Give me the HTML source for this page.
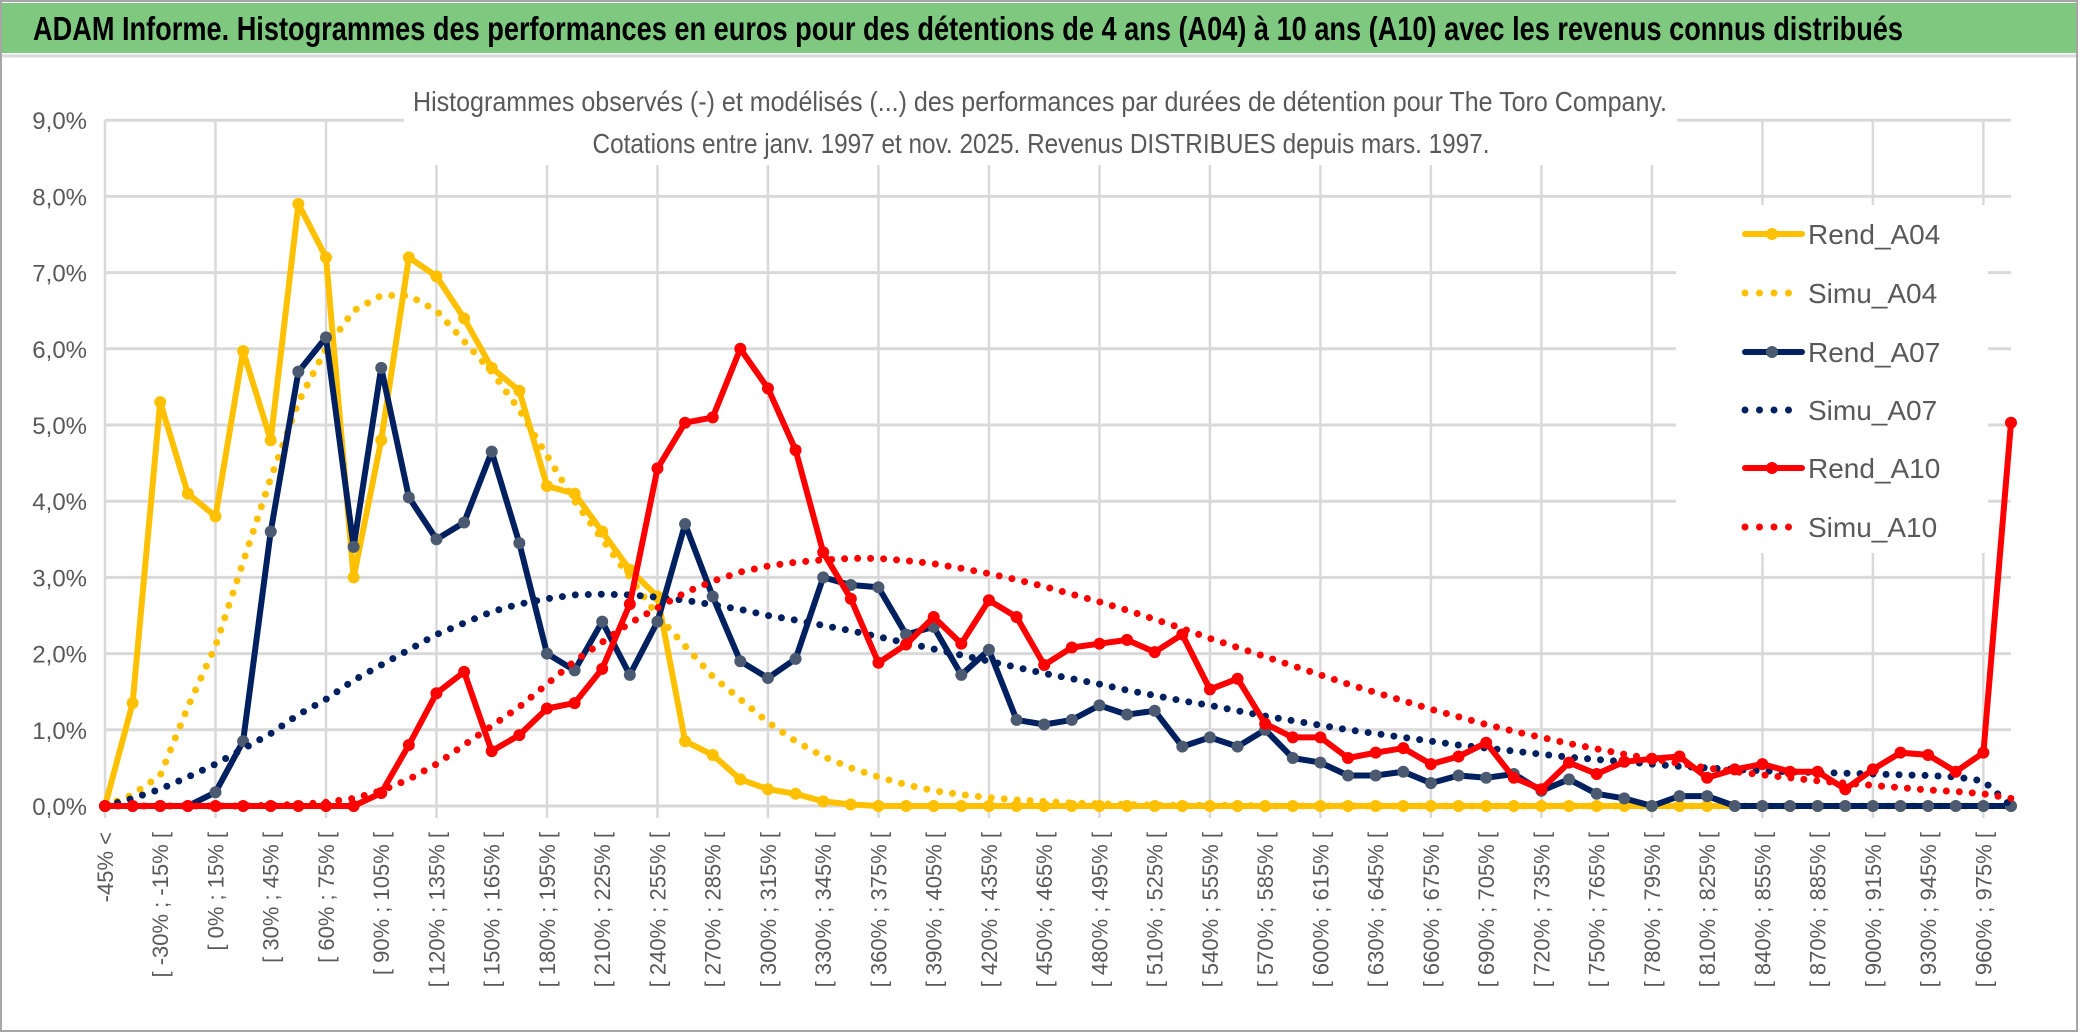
<!DOCTYPE html>
<html><head><meta charset="utf-8">
<style>
html,body{margin:0;padding:0;background:#fff;width:2086px;height:1033px;overflow:hidden}
svg{display:block}
</style></head>
<body>
<svg id="chart" width="2086" height="1033" xmlns="http://www.w3.org/2000/svg" font-family="'Liberation Sans', sans-serif">
  <rect x="1" y="1" width="2076" height="1030" fill="#fff" stroke="#a6a6a6" stroke-width="2"/>
  <rect x="2" y="3" width="2074" height="50" fill="#7ec97f"/>
  <line x1="2" y1="56" x2="2076" y2="56" stroke="#d9d9d9" stroke-width="3"/>
  <text x="33" y="40" font-size="33" font-weight="bold" fill="#000" textLength="1870" lengthAdjust="spacingAndGlyphs">ADAM Informe. Histogrammes des performances en euros pour des détentions de 4 ans (A04) à 10 ans (A10) avec les revenus connus distribués</text>
  <g id="grid"></g>
  <rect x="404" y="80" width="1273" height="85" fill="#fff"/>
  <text x="1040" y="111" font-size="28" fill="#595959" text-anchor="middle" textLength="1254" lengthAdjust="spacingAndGlyphs">Histogrammes observés (-) et modélisés (...) des performances par durées de détention pour The Toro Company.</text>
  <text x="1041" y="153" font-size="28" fill="#595959" text-anchor="middle" textLength="897" lengthAdjust="spacingAndGlyphs">Cotations entre janv. 1997 et nov. 2025. Revenus DISTRIBUES depuis mars. 1997.</text>
  <g id="yticks"></g>
  <g id="xticks"></g>
  <rect x="1676" y="205" width="312" height="348" fill="#fff"/>
  <g id="series"></g>
  <g id="legend"></g>
</svg>
<script>
const categoriesLow = [];
for (let k = 1; k < 70; k++) categoriesLow.push(-45 + 15 * (k - 1));
const yTicks = ["0,0%","1,0%","2,0%","3,0%","4,0%","5,0%","6,0%","7,0%","8,0%","9,0%"];
const rendA04 = [0,1.35,5.3,4.1,3.8,5.97,4.8,7.9,7.2,3.0,4.8,7.2,6.95,6.4,5.75,5.45,4.2,4.1,3.6,3.1,2.75,0.85,0.67,0.35,0.22,0.16,0.06,0.02,0,0,0,0,0,0,0,0,0,0,0,0,0,0,0,0,0,0,0,0,0,0,0,0,0,0,0,0,0,0,0,0,0,0,0,0,0,0,0,0,0,0];
const simuA04 = [0,0.15,0.4,1.3,2.1,3.2,4.3,5.3,6.0,6.5,6.7,6.7,6.5,6.1,5.7,5.2,4.6,4.0,3.5,3.0,2.5,2.1,1.7,1.4,1.1,0.85,0.65,0.5,0.38,0.28,0.2,0.15,0.11,0.08,0.06,0.04,0.03,0.02,0.01,0.01,0.01,0.01,0,0,0,0,0,0,0,0,0,0,0,0,0,0,0,0,0,0,0,0,0,0,0,0,0,0,0,0];
const rendA07 = [0,0,0,0,0.18,0.85,3.6,5.7,6.15,3.4,5.75,4.05,3.5,3.72,4.65,3.45,2.0,1.78,2.42,1.72,2.42,3.7,2.75,1.9,1.68,1.93,3.0,2.9,2.87,2.25,2.35,1.72,2.05,1.13,1.07,1.13,1.32,1.2,1.25,0.78,0.9,0.78,1.0,0.63,0.57,0.4,0.4,0.45,0.3,0.4,0.37,0.42,0.2,0.35,0.16,0.1,0,0.13,0.13,0,0,0,0,0,0,0,0,0,0,0];
const simuA07 = [0,0.1,0.22,0.38,0.55,0.75,0.95,1.2,1.4,1.65,1.85,2.05,2.25,2.4,2.55,2.65,2.72,2.77,2.78,2.77,2.74,2.7,2.64,2.58,2.5,2.44,2.37,2.3,2.22,2.14,2.06,1.98,1.9,1.82,1.74,1.67,1.6,1.52,1.45,1.38,1.32,1.25,1.18,1.12,1.06,1.0,0.95,0.9,0.85,0.8,0.76,0.72,0.68,0.64,0.61,0.58,0.55,0.52,0.5,0.48,0.46,0.45,0.44,0.43,0.42,0.41,0.4,0.38,0.33,0];
const rendA10 = [0,0,0,0,0,0,0,0,0,0,0.17,0.8,1.48,1.76,0.72,0.93,1.28,1.35,1.8,2.65,4.43,5.03,5.1,6.0,5.48,4.67,3.33,2.72,1.88,2.12,2.48,2.13,2.7,2.48,1.85,2.08,2.13,2.18,2.02,2.25,1.53,1.67,1.08,0.9,0.9,0.63,0.7,0.76,0.55,0.65,0.83,0.37,0.22,0.57,0.42,0.58,0.62,0.65,0.37,0.48,0.55,0.45,0.45,0.22,0.48,0.7,0.67,0.45,0.7,5.03];
const simuA10 = [0,0,0,0,0,0,0.01,0.02,0.05,0.1,0.2,0.35,0.55,0.8,1.05,1.3,1.6,1.9,2.15,2.4,2.6,2.8,2.95,3.07,3.15,3.2,3.23,3.25,3.25,3.22,3.18,3.12,3.05,2.97,2.88,2.78,2.68,2.57,2.45,2.33,2.2,2.08,1.96,1.84,1.72,1.6,1.49,1.38,1.27,1.17,1.07,0.98,0.9,0.82,0.75,0.68,0.62,0.56,0.5,0.45,0.41,0.37,0.33,0.3,0.27,0.24,0.21,0.19,0.16,0.1];

const NS = "http://www.w3.org/2000/svg";
const X0 = 105, X1 = 2011, Y0 = 806, YPER = 76.2;
const N = rendA04.length;
const xs = i => X0 + (X1 - X0) * i / (N - 1);
const ys = v => Y0 - v * YPER;
function mk(tag, attrs, parent) {
  const e = document.createElementNS(NS, tag);
  for (const a in attrs) e.setAttribute(a, attrs[a]);
  parent.appendChild(e);
  return e;
}
const grid = document.getElementById('grid');
for (let t = 0; t < yTicks.length; t++) {
  const l = mk('line', {x1: X0, x2: X1, y1: ys(t), y2: ys(t), stroke: '#d9d9d9', 'stroke-width': 3}, grid);
  
  
}
for (let i = 0; i < N; i += 4) {
  const l = mk('line', {x1: xs(i), x2: xs(i), y1: ys(9), y2: Y0 + 12, stroke: '#d9d9d9', 'stroke-width': 2.5}, grid);
  
  
}
const yt = document.getElementById('yticks');
yTicks.forEach((s, t) => {
  const e = mk('text', {x: 87, y: ys(t) + 9, 'font-size': 24, fill: '#595959', 'text-anchor': 'end'}, yt);
  e.textContent = s;
  
  
});
const xt = document.getElementById('xticks');
for (let i = 0; i < N; i += 2) {
  let s = i === 0 ? '-45% <' : '[ ' + categoriesLow[i - 1] + '% ; ' + (categoriesLow[i - 1] + 15) + '% [';
  const x = xs(i) + 8, y = 832;
  const e = mk('text', {x: x, y: y, 'font-size': 22, fill: '#595959', 'text-anchor': 'end', transform: `rotate(-90 ${x} ${y})`}, xt);
  e.textContent = s;
  
  
}
const sg = document.getElementById('series');
function pts(arr) { return arr.map((v, i) => xs(i).toFixed(1) + ',' + ys(v).toFixed(1)).join(' '); }
function dotted(arr, color, name) {
  const p = mk('polyline', {points: pts(arr), fill: 'none', stroke: color, 'stroke-width': 7, 'stroke-linecap': 'round', 'stroke-dasharray': '0 13'}, sg);
  
  
}
function solid(arr, color, mcolor, name) {
  const g = mk('g', {}, sg);
  
  
  mk('polyline', {points: pts(arr), fill: 'none', stroke: color, 'stroke-width': 6, 'stroke-linejoin': 'round'}, g);
  arr.forEach((v, i) => {
    const c = mk('circle', {cx: xs(i), cy: ys(v), r: 6, fill: mcolor}, g);
    
    
  });
}
solid(rendA04, '#ffc000', '#ffc000', 'rend-a04-line');
dotted(simuA04, '#ffc000', 'simu-a04-line');
solid(rendA07, '#002060', '#4b5a70', 'rend-a07-line');
dotted(simuA07, '#002060', 'simu-a07-line');
solid(rendA10, '#ff0000', '#ff0000', 'rend-a10-line');
dotted(simuA10, '#ff0000', 'simu-a10-line');

const legendNames = ['Rend_A04','Simu_A04','Rend_A07','Simu_A07','Rend_A10','Simu_A10'];
const legendColors = ['#ffc000','#ffc000','#002060','#002060','#ff0000','#ff0000'];
const legendY = [234, 293, 352, 410, 468, 527];
const lg = document.getElementById('legend');
legendNames.forEach((n, j) => {
  const g = mk('g', {}, lg);
  
  
  const y = legendY[j];
  if (j % 2 === 0) {
    mk('line', {x1: 1745, x2: 1802, y1: y, y2: y, stroke: legendColors[j], 'stroke-width': 6, 'stroke-linecap': 'round'}, g);
    mk('circle', {cx: 1772, cy: y, r: 6, fill: j === 2 ? '#4b5a70' : legendColors[j]}, g);
  } else {
    mk('line', {x1: 1745, x2: 1790, y1: y, y2: y, stroke: legendColors[j], 'stroke-width': 7, 'stroke-linecap': 'round', 'stroke-dasharray': '0 14.5'}, g);
  }
  const t = mk('text', {x: 1808, y: y + 10, 'font-size': 28, fill: '#595959'}, g);
  t.textContent = n;
});
</script>
</body></html>
